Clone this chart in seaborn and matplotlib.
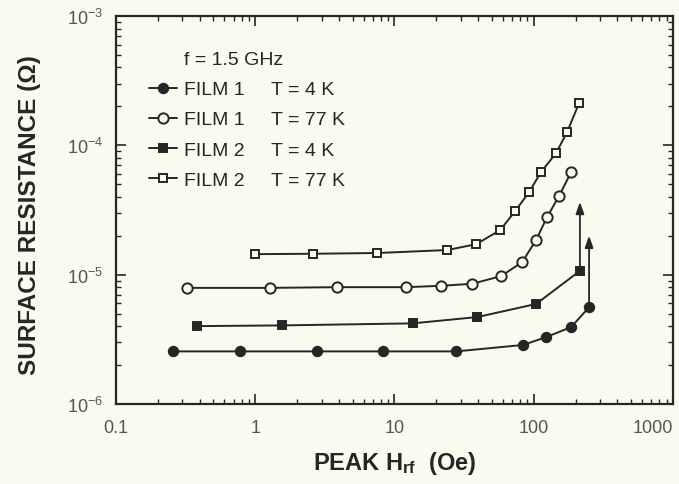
import numpy as np
import pandas as pd
import matplotlib
matplotlib.use("Agg")
import matplotlib.pyplot as plt
from matplotlib.ticker import LogLocator, FixedLocator, FixedFormatter, NullFormatter
import seaborn as sns

# Surface resistance vs peak RF field, f = 1.5 GHz
film1_4k_h = [0.257, 0.78, 2.8, 8.3, 27.8, 84, 123, 186, 250]
film1_4k_rs = [2.55e-6, 2.55e-6, 2.55e-6, 2.55e-6, 2.55e-6, 2.86e-6, 3.29e-6, 3.93e-6, 5.6e-6]

film1_77k_h = [0.323, 1.27, 3.84, 12.2, 21.7, 36.2, 58.5, 82.7, 104, 125, 152, 186]
film1_77k_rs = [7.9e-6, 7.9e-6, 8.0e-6, 8.0e-6, 8.2e-6, 8.5e-6, 9.75e-6, 1.25e-5,
                1.85e-5, 2.79e-5, 4.05e-5, 6.2e-5]

film2_4k_h = [0.381, 1.55, 13.5, 39.4, 104, 215]
film2_4k_rs = [4.0e-6, 4.05e-6, 4.2e-6, 4.7e-6, 5.93e-6, 1.07e-5]

film2_77k_h = [0.99, 2.58, 7.55, 24, 38.7, 57.5, 73.7, 92.8, 113, 145, 174, 212]
film2_77k_rs = [1.44e-5, 1.45e-5, 1.47e-5, 1.55e-5, 1.72e-5, 2.21e-5, 3.1e-5, 4.35e-5,
                6.22e-5, 8.71e-5, 1.27e-4, 2.12e-4]

# vertical arrows marking the upper bound beyond the last 4 K points
arrow_film2_top = 3.65e-5
arrow_film1_top = 2.0e-5

legend_labels = ["FILM 1     T = 4 K", "FILM 1     T = 77 K",
                 "FILM 2     T = 4 K", "FILM 2     T = 77 K"]
x_ticks = [0.1, 1, 10, 100, 1000]
x_tick_labels = ["0.1", "1", "10", "100", "1000"]
y_ticks = [1e-6, 1e-5, 1e-4, 1e-3]
y_tick_labels = ["10$^{-6}$", "10$^{-5}$", "10$^{-4}$", "10$^{-3}$"]

sns.set_style("ticks")
ink = "#262626"
soft_ink = "#555555"
paper = "#fbfaee"
plt.rcParams["font.family"] = ["Liberation Sans", "DejaVu Sans"]
plt.rcParams["mathtext.fontset"] = "custom"
plt.rcParams["mathtext.rm"] = "Liberation Sans"
plt.rcParams["mathtext.it"] = "Liberation Sans:italic"
plt.rcParams["mathtext.bf"] = "Liberation Sans:bold"

fig = plt.figure(figsize=(6.79, 4.85), dpi=100, facecolor=paper)
ax = fig.add_axes([0.1708, 0.165, 0.8202, 0.800])
ax.set_facecolor(paper)
ax.set_xscale("log")
ax.set_yscale("log")

series = [
    (film1_4k_h, film1_4k_rs, "o", ink, 6.8),
    (film1_77k_h, film1_77k_rs, "o", paper, 7.4),
    (film2_4k_h, film2_4k_rs, "s", ink, 5.8),
    (film2_77k_h, film2_77k_rs, "s", paper, 6.4),
]
for (h, rs, mk, fc, ms), lab in zip(series, legend_labels):
    df = pd.DataFrame({"H": h, "Rs": rs})
    sns.lineplot(data=df, x="H", y="Rs", ax=ax, estimator=None, sort=False,
                 color=ink, lw=1.4, marker=mk, markersize=ms,
                 markerfacecolor=fc, markeredgecolor=ink, markeredgewidth=1.4,
                 label=lab)

for h, rs, top in [(film2_4k_h, film2_4k_rs, arrow_film2_top),
                   (film1_4k_h, film1_4k_rs, arrow_film1_top)]:
    ax.annotate("", xy=(h[-1], top), xytext=(h[-1], rs[-1]),
                arrowprops=dict(arrowstyle="-|>,head_length=0.7,head_width=0.25",
                                color=ink, lw=1.3, shrinkA=0, shrinkB=0))

ax.set_xlim(0.1, 1000)
ax.set_ylim(1e-6, 1e-3)
ax.xaxis.set_major_locator(FixedLocator(x_ticks))
ax.xaxis.set_major_formatter(FixedFormatter(x_tick_labels))
ax.yaxis.set_major_locator(FixedLocator(y_ticks))
ax.yaxis.set_major_formatter(FixedFormatter(y_tick_labels))
for axis in (ax.xaxis, ax.yaxis):
    axis.set_minor_locator(LogLocator(base=10, subs=np.arange(2, 10), numticks=20))
    axis.set_minor_formatter(NullFormatter())

ax.tick_params(which="both", direction="in", top=True, right=True, color=ink,
               labelcolor=soft_ink, labelsize=13)
ax.tick_params(which="major", length=7, width=1.2)
ax.tick_params(axis="x", which="major", pad=11)
ax.tick_params(axis="y", which="major", pad=9)
ax.tick_params(which="minor", length=3.5, width=1.0)
for sp in ax.spines.values():
    sp.set_visible(True)
    sp.set_color(ink)
    sp.set_linewidth(1.6)

# keep the last x label inside the figure
fig.canvas.draw()
xlabels = ax.get_xticklabels()
xlabels[-1].set_horizontalalignment("right")

ax.set_xlabel("PEAK H$_{\\mathbf{rf}}$  (Oe)", fontsize=17, fontweight="bold",
              color=ink, labelpad=9)
ax.set_ylabel("SURFACE RESISTANCE (\u03a9)", fontsize=17.5, fontweight="bold",
              color=ink)
ax.yaxis.set_label_coords(-0.135, 0.49)

ax.text(0.122, 0.887, "f = 1.5 GHz", transform=ax.transAxes, fontsize=14,
        color=ink, va="center", ha="left")
leg = ax.legend(loc="upper left", bbox_to_anchor=(0.045, 0.853), frameon=False,
                fontsize=14, handlelength=1.45, handletextpad=0.35,
                labelspacing=0.64, borderaxespad=0)
for t in leg.get_texts():
    t.set_color(ink)

fig.savefig("out.png", dpi=100, facecolor=paper)
